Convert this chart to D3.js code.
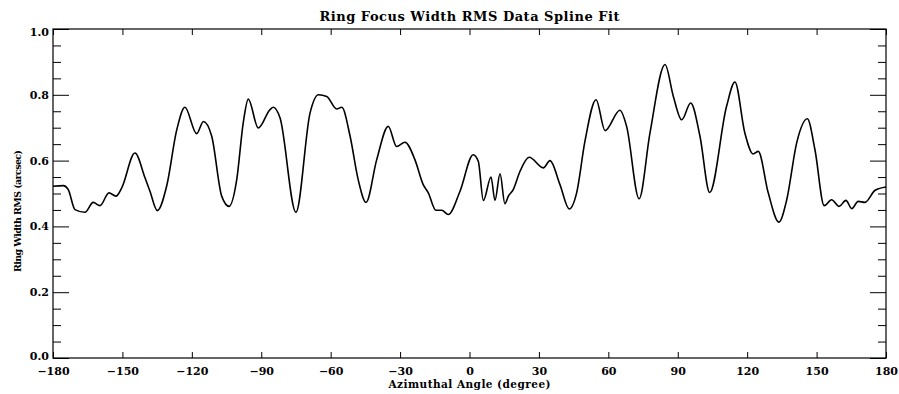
<!DOCTYPE html>
<html>
<head>
<meta charset="utf-8">
<script src="https://cdn.jsdelivr.net/npm/d3@7"></script>
<style>
	body { margin: 0; background: #fff; }
	text { font-family: "DejaVu Serif", serif; font-weight: bold; fill: #000; }
</style>
</head>
<body>
<div id="graphicContainer"></div>
<script>
// azimuthal angle (degree) and ring width rms (arcsec)
var angles = [-180, -175.5, -173.4, -170.5, -166.2, -162.6, -159.7, -155.8, -152.8, -150.3,
	-144.6, -140.2, -138.1, -134.9, -130.9, -126.5, -123.0, -117.9, -115.0, -111.4,
	-107.1, -103.9, -100.6, -97.8, -95.6, -91.3, -86.2, -84.8, -81.9, -75.0,
	-68.9, -65.3, -61.7, -57.4, -55.2, -51.6, -48.1, -44.7, -40.1, -35.1,
	-31.5, -27.9, -23.6, -20.0, -17.8, -14.5, -12.0, -9.2, -4.1, 1.6,
	3.8, 6.0, 9.3, 11.0, 13.2, 15.3, 16.8, 18.9, 21.8, 25.8,
	31.9, 34.8, 39.1, 43.1, 46.3, 49.9, 54.7, 58.6, 65.0, 67.9,
	73.3, 78.0, 84.5, 88.1, 91.7, 95.6, 99.6, 103.8, 111.1, 114.7,
	119.0, 122.6, 124.8, 129.1, 133.7, 137.1, 141.4, 146.0, 149.3, 153.3,
	156.5, 159.7, 162.7, 165.2, 168.0, 170.9, 175.3, 180]
var rms = [0.522, 0.524, 0.512, 0.451, 0.443, 0.473, 0.463, 0.502, 0.492, 0.517,
	0.623, 0.547, 0.507, 0.448, 0.522, 0.694, 0.762, 0.682, 0.719, 0.674,
	0.492, 0.461, 0.542, 0.714, 0.787, 0.699, 0.755, 0.762, 0.730, 0.443,
	0.745, 0.800, 0.795, 0.757, 0.762, 0.674, 0.542, 0.473, 0.603, 0.704,
	0.643, 0.656, 0.603, 0.527, 0.502, 0.449, 0.449, 0.436, 0.507, 0.618,
	0.598, 0.479, 0.550, 0.479, 0.560, 0.469, 0.492, 0.512, 0.567, 0.610,
	0.578, 0.600, 0.527, 0.453, 0.502, 0.659, 0.785, 0.691, 0.753, 0.704,
	0.484, 0.684, 0.892, 0.795, 0.724, 0.775, 0.674, 0.503, 0.765, 0.839,
	0.684, 0.620, 0.628, 0.502, 0.413, 0.481, 0.654, 0.727, 0.633, 0.463,
	0.481, 0.461, 0.479, 0.454, 0.476, 0.473, 0.510, 0.520]

var xTicks = [-180, -150, -120, -90, -60, -30, 0, 30, 60, 90, 120, 150, 180]
var yTicks = [0.0, 0.2, 0.4, 0.6, 0.8, 1.0]
var yMinorTicks = [0.05, 0.1, 0.15, 0.25, 0.3, 0.35, 0.45, 0.5, 0.55, 0.65, 0.7, 0.75, 0.85, 0.9, 0.95]

var title = "Ring Focus Width RMS Data Spline Fit"
var xTitle = "Azimuthal Angle (degree)"
var yTitle = "Ring Width RMS (arcsec)"

function init() {
	var width = 899
	var height = 394
	var margin = {top: 29, right: 13, bottom: 36, left: 53}
	var w = width - margin.left - margin.right
	var h = height - margin.top - margin.bottom

	var svg = d3.select("#graphicContainer").append("svg")
		.attr("width", width)
		.attr("height", height)

	var features = svg.append("g").attr("transform", "translate(" + margin.left + "," + margin.top + ")")

	var x = d3.scaleLinear().domain([-180, 180]).range([0, w])
	var y = d3.scaleLinear().domain([0, 1]).range([h, 0])

	var fmtX = function(d) { return d < 0 ? "\u2212" + (-d) : String(d) }

	// bottom axis with labels
	features.append("g")
		.attr("class", "x")
		.attr("transform", "translate(0," + h + ")")
		.call(d3.axisBottom(x).tickValues(xTicks).tickSize(-6).tickPadding(9).tickFormat(fmtX))
		.call(g => g.selectAll("text").style("font-size", "11px").attr("font-family", null))

	features.append("g")
		.call(d3.axisTop(x).tickValues(xTicks).tickSize(-6).tickFormat(""))

	features.append("g")
		.attr("class", "y")
		.call(d3.axisLeft(y).tickValues(yTicks).tickSize(-16).tickPadding(4).tickFormat(d3.format(".1f")))
		.call(g => g.selectAll("text").style("font-size", "11px").attr("font-family", null)
			// end labels sit just inside the frame
			.attr("dy", function(d) { return d == 1 ? "0.6em" : d == 0 ? "0.12em" : "0.32em" }))

	features.append("g")
		.call(d3.axisLeft(y).tickValues(yMinorTicks).tickSize(-8).tickFormat(""))

	features.append("g")
		.attr("transform", "translate(" + w + ",0)")
		.call(d3.axisRight(y).tickValues(yTicks).tickSize(-16).tickFormat(""))

	features.append("g")
		.attr("transform", "translate(" + w + ",0)")
		.call(d3.axisRight(y).tickValues(yMinorTicks).tickSize(-8).tickFormat(""))

	features.selectAll(".domain").remove()
	features.selectAll(".tick line").attr("stroke", "#000").attr("stroke-width", 1)

	features.append("rect")
		.attr("x", 0).attr("y", 0)
		.attr("width", w).attr("height", h)
		.attr("fill", "none")
		.attr("stroke", "#000")
		.attr("stroke-width", 1.2)

	var pts = angles.map(function(a, i) { return [a, rms[i]] })

	var line = d3.line()
		.x(function(d) { return x(d[0]) })
		.y(function(d) { return y(d[1]) })
		.curve(d3.curveMonotoneX)

	features.append("path")
		.datum(pts)
		.attr("fill", "none")
		.attr("stroke", "#000")
		.attr("stroke-width", 1.6)
		.attr("stroke-linejoin", "round")
		.attr("d", line)

	svg.append("text")
		.attr("x", margin.left + w / 2)
		.attr("y", 21)
		.attr("text-anchor", "middle")
		.attr("textLength", 300)
		.style("font-size", "13px")
		.text(title)

	svg.append("text")
		.attr("x", margin.left + w / 2)
		.attr("y", 388)
		.attr("text-anchor", "middle")
		.attr("textLength", 162)
		.style("font-size", "10.5px")
		.text(xTitle)

	svg.append("text")
		.attr("transform", "translate(21,211) rotate(-90)")
		.attr("text-anchor", "middle")
		.attr("textLength", 122)
		.style("font-size", "9.5px")
		.text(yTitle)
}

init()
</script>
</body>
</html>
